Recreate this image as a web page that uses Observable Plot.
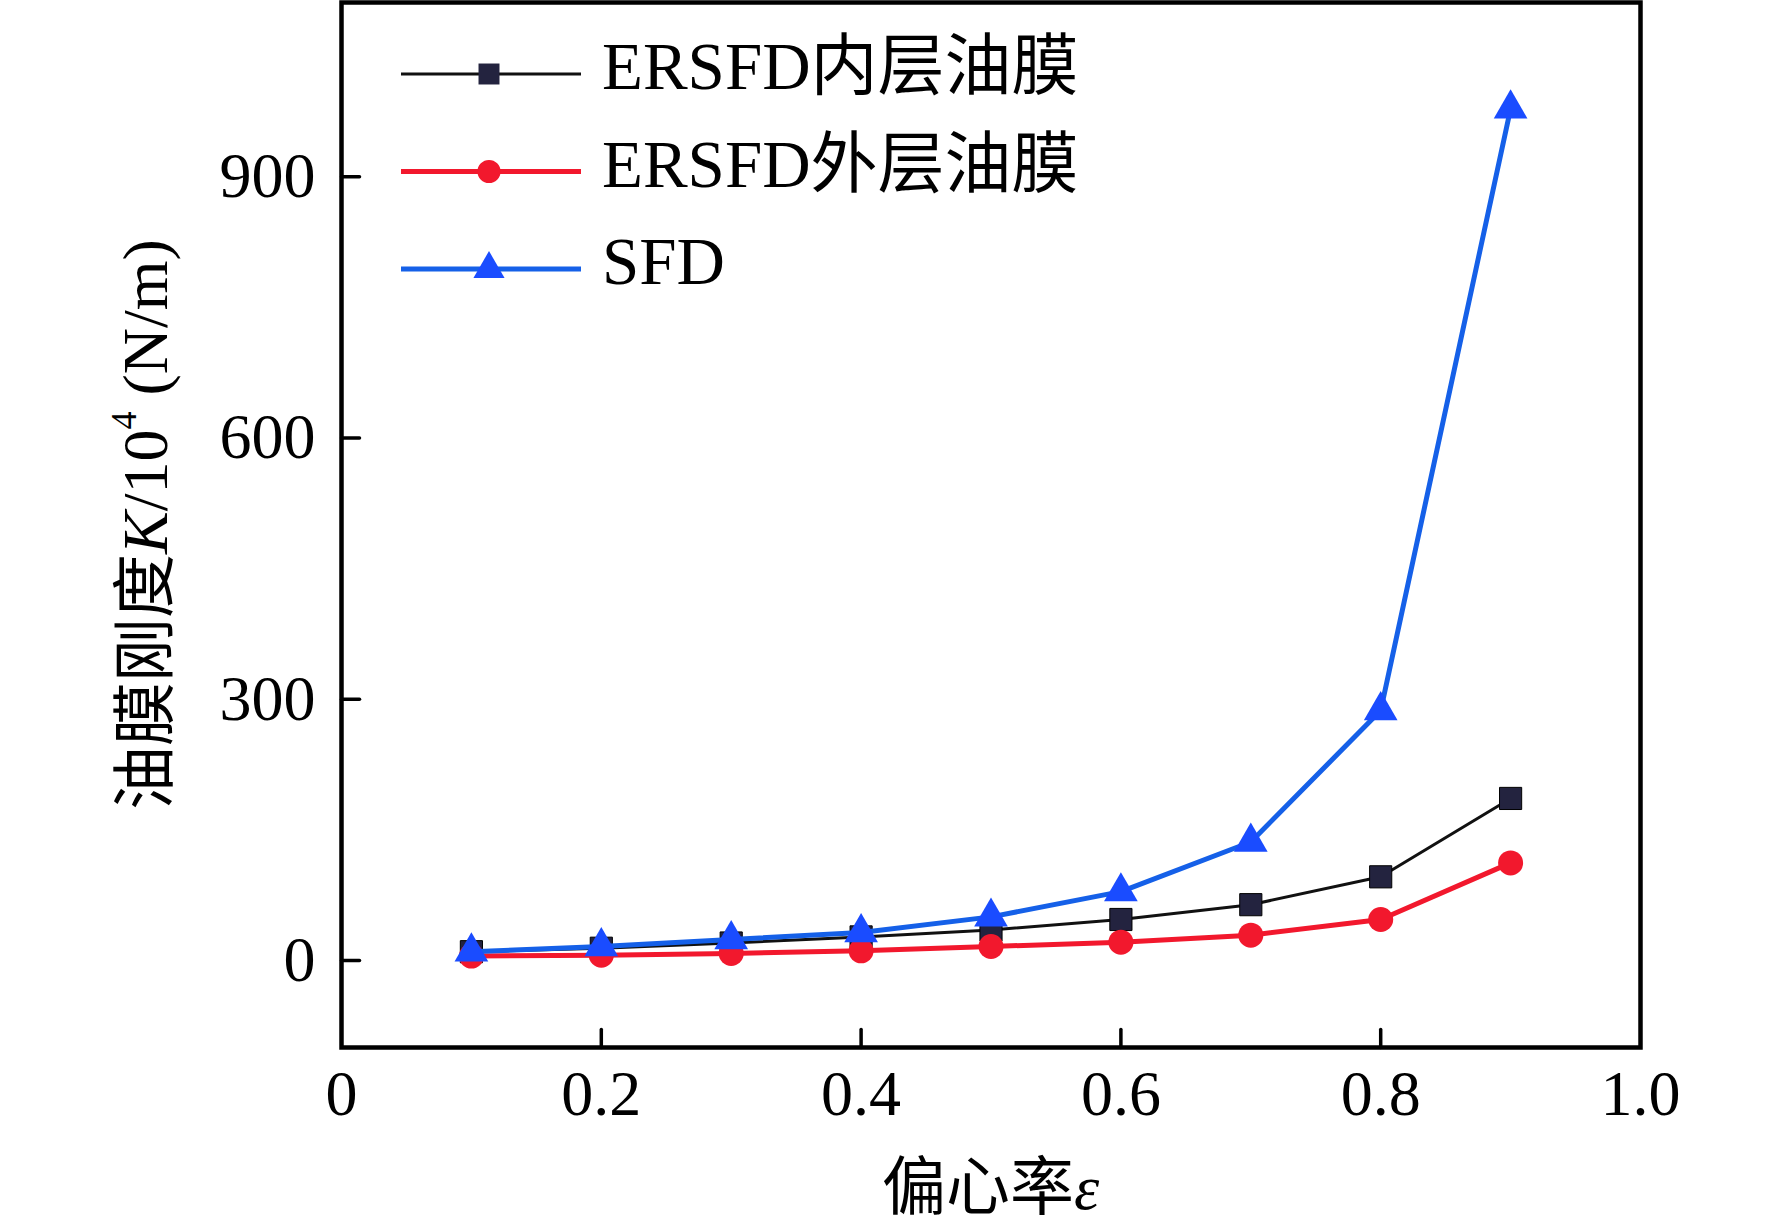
<!DOCTYPE html>
<html><head><meta charset="utf-8">
<script src="https://cdn.jsdelivr.net/npm/d3@7"></script>
<script src="https://cdn.jsdelivr.net/npm/@observablehq/plot@0.6"></script>
<style>
body{margin:0;background:#fff}
#chart{position:relative;width:1772px;height:1228px}
</style>
</head><body><div id="chart"></div>
<script>
// ---- data ----
const eps = [0.1, 0.2, 0.3, 0.4, 0.5, 0.6, 0.7, 0.8, 0.9];
const innerK = [10, 14, 20, 27, 35, 47, 64, 96, 186];
const outerK = [5, 6, 8, 11, 16, 21, 29, 47, 112];
const sfdK = [10, 16, 24, 32, 50, 79, 136, 287, 978];
const seriesNames = ["ERSFD内层油膜", "ERSFD外层油膜", "SFD"];
const xTicks = [0, 0.2, 0.4, 0.6, 0.8, 1.0];
const xTickLabels = ["0", "0.2", "0.4", "0.6", "0.8", "1.0"];
const xInnerTicks = [0.2, 0.4, 0.6, 0.8];
const yTicks = [0, 300, 600, 900];

// ---- styles ----
const colors = {inner: "#111111", innerFill: "#23233f", outer: "#f2182d", sfd: "#1560e8", sfdFill: "#1a4cff"};
const W = 1772, H = 1228, mL = 341, mR = 132, mT = 2, mB = 181;
const fontFamily = "'Liberation Serif','Times New Roman','Noto Sans CJK SC',serif";

const toRows = (vals, s) => eps.map((e, i) => ({eps: e, K: vals[i], s}));
const innerRows = toRows(innerK, seriesNames[0]);
const outerRows = toRows(outerK, seriesNames[1]);
const sfdRows = toRows(sfdK, seriesNames[2]);

const tickShape = {draw(ctx, l) { ctx.moveTo(0, 0); ctx.lineTo(0, -l); }};

const chart = Plot.plot({
  width: W, height: H,
  marginLeft: mL, marginRight: mR, marginTop: mT, marginBottom: mB,
  style: {fontFamily, fontSize: "64px", background: "#fff", color: "#000", overflow: "visible"},
  x: {domain: [0, 1]},
  y: {domain: [-100, 1100]},
  marks: [
    Plot.axisX(xTicks, {tickSize: 0, tickPadding: 22, fontSize: 64, label: null,
      tickFormat: d => xTickLabels[xTicks.indexOf(d)]}),
    Plot.axisY(yTicks, {tickSize: 0, tickPadding: 26, fontSize: 64, label: null}),
    Plot.vector(xInnerTicks, {x: d => d, frameAnchor: "bottom", length: 18, rotate: 0,
      anchor: "start", shape: tickShape, stroke: "#000", strokeWidth: 3.5}),
    Plot.vector(yTicks, {y: d => d, frameAnchor: "left", length: 18, rotate: 90,
      anchor: "start", shape: tickShape, stroke: "#000", strokeWidth: 3.5}),
    Plot.line(innerRows, {x: "eps", y: "K", stroke: colors.inner, strokeWidth: 3}),
    Plot.dot(innerRows, {x: "eps", y: "K", symbol: "square", r: 12.5, fill: colors.innerFill, stroke: "#000", strokeWidth: 1}),
    Plot.line(outerRows, {x: "eps", y: "K", stroke: colors.outer, strokeWidth: 5}),
    Plot.dot(outerRows, {x: "eps", y: "K", symbol: "circle", r: 12.5, fill: colors.outer}),
    Plot.line(sfdRows, {x: "eps", y: "K", stroke: colors.sfd, strokeWidth: 5}),
    Plot.dot(sfdRows, {x: "eps", y: "K", symbol: "triangle", r: 12.5, fill: colors.sfdFill}),
    Plot.frame({stroke: "#000", strokeWidth: 4.5})
  ]
});
document.getElementById("chart").appendChild(chart);

// ---- axis titles ----
const svg = d3.select(chart);
const plotCx = mL + (W - mL - mR) / 2;
const plotCy = mT + (H - mT - mB) / 2;

const xt = svg.append("text")
  .attr("x", plotCx).attr("y", 1194)
  .attr("text-anchor", "middle").attr("dominant-baseline", "middle")
  .attr("font-family", fontFamily).attr("font-size", 64).attr("fill", "#000");
xt.append("tspan").text("偏心率");
xt.append("tspan").attr("font-style", "italic").text("ε");

const yt = svg.append("text")
  .attr("transform", `translate(152,${plotCy}) rotate(-90)`)
  .attr("text-anchor", "middle").attr("dominant-baseline", "middle")
  .attr("font-family", fontFamily).attr("font-size", 64).attr("fill", "#000");
yt.append("tspan").text("油膜刚度");
yt.append("tspan").attr("font-style", "italic").text("K");
yt.append("tspan").text("/10");
yt.append("tspan").attr("font-size", 36).attr("dy", -24).text("4");
yt.append("tspan").attr("dy", 24).text(" (N/m)");

// ---- legend ----
const legendItems = [
  {name: seriesNames[0], stroke: colors.inner, sw: 3, sym: d3.symbolSquare, fill: colors.innerFill, size: 440},
  {name: seriesNames[1], stroke: colors.outer, sw: 5, sym: d3.symbolCircle, fill: colors.outer, size: 420},
  {name: seriesNames[2], stroke: colors.sfd, sw: 5, sym: d3.symbolTriangle, fill: colors.sfdFill, size: 420}
];
const lg = svg.append("g");
legendItems.forEach((it, i) => {
  const y = 74 + i * 97.5;
  lg.append("line").attr("x1", 401).attr("x2", 581).attr("y1", y).attr("y2", y)
    .attr("stroke", it.stroke).attr("stroke-width", it.sw);
  lg.append("path").attr("d", d3.symbol(it.sym, it.size)())
    .attr("transform", `translate(489,${y})`).attr("fill", it.fill);
  lg.append("text").attr("x", 602).attr("y", y).attr("dominant-baseline", "middle")
    .attr("text-anchor", "start")
    .attr("font-family", fontFamily).attr("font-size", 67).attr("fill", "#000").text(it.name);
});
</script>
</body></html>
